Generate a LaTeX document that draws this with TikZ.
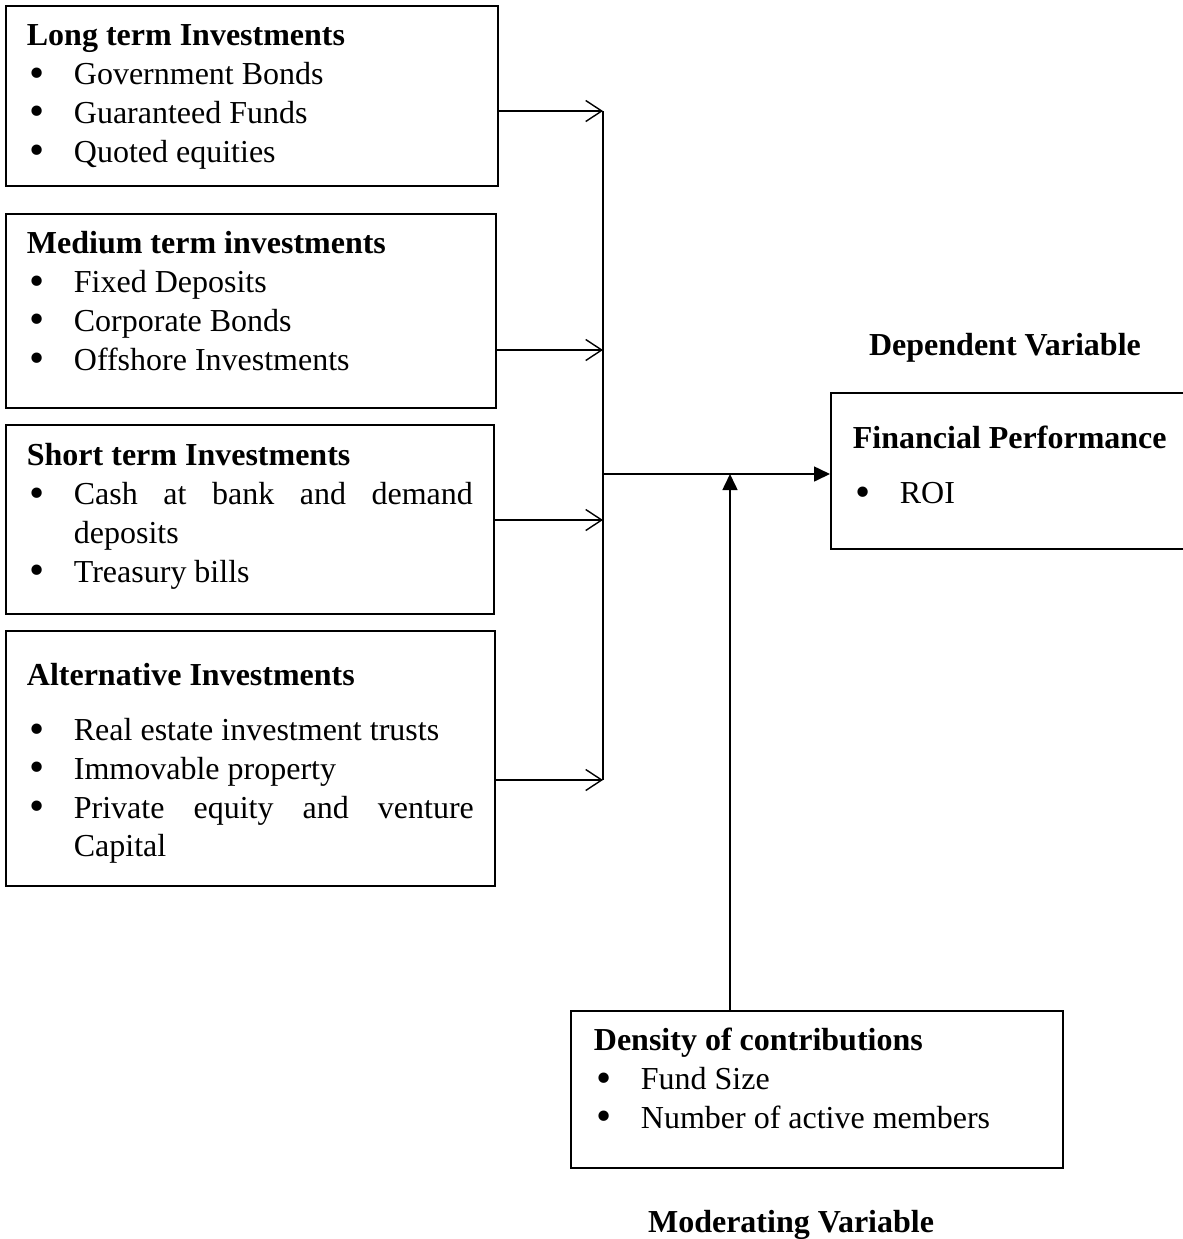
\documentclass[tikz,border=0pt]{standalone}
\usepackage{fontspec}
\usepackage{graphicx}
\setmainfont{Liberation Serif}
\usetikzlibrary{arrows.meta}
\hbadness=10000
\hyphenpenalty=10000

\newcommand{\bul}[1]{\par\hangindent=23.5pt\hangafter=1\noindent\makebox[23.5pt][l]{\hspace{1.5pt}\raisebox{-1.2pt}{\scalebox{1.35}{\textbullet}}}#1\par}

\tikzset{
  varbox/.style={draw, line width=0.9pt, anchor=north west, inner ysep=0pt, inner xsep=10.5pt,
    align=justify, font=\fontsize{16pt}{19.35pt}\selectfont},
  varlabel/.style={anchor=base, inner sep=0pt, font=\fontsize{16pt}{19.35pt}\selectfont\bfseries},
  feed/.style={line width=0.7pt, -{Straight Barb[length=8pt,width=10.5pt]}},
  link/.style={line width=0.8pt, -{Triangle[length=8pt,width=7.5pt]}}
}

\begin{document}
\begin{tikzpicture}[x=0.5pt, y=-0.5pt]

    \useasboundingbox (0,0) rectangle (1183,1239);

    \node[varbox, text width=225pt, text height=20pt, text depth=70pt] (longterm) at (5,5)
        {\textbf{Long term Investments}
         \bul{Government Bonds}
         \bul{Guaranteed Funds}
         \bul{Quoted equities}};
    \node[varbox, text width=224pt, text height=20pt, text depth=77pt] (mediumterm) at (5,213)
        {\textbf{Medium term investments}
         \bul{Fixed Deposits}
         \bul{Corporate Bonds}
         \bul{Offshore Investments}};
    \node[varbox, text width=223pt, text height=20.5pt, text depth=74pt] (shortterm) at (5,424)
        {\textbf{Short term Investments}
         \bul{Cash at bank and demand\linebreak deposits}
         \bul{Treasury bills}};
    \node[varbox, text width=223.5pt, text height=27.5pt, text depth=100pt] (alternative) at (5,630)
        {\textbf{Alternative Investments}\par\vspace{8pt}
         \bul{Real estate investment trusts}
         \bul{Immovable property}
         \bul{Private equity and venture\linebreak Capital}};

    \node[varlabel] (deplabel) at (1005,355) {Dependent Variable};
    \node[varbox, inner xsep=11pt, text width=168pt, text height=28pt, text depth=50pt] (performance) at (830,392)
        {\textbf{Financial Performance}\par\vspace{8pt}
         \bul{ROI}};

    \node[varbox, inner xsep=11.5pt, text width=223pt, text height=20pt, text depth=58.5pt] (density) at (570,1010)
        {\textbf{Density of contributions}
         \bul{Fund Size}
         \bul{Number of active members}};
    \node[varlabel] (modlabel) at (791,1232) {Moderating Variable};

    \coordinate (bus1) at (603,111);
    \coordinate (bus2) at (603,350);
    \coordinate (bus3) at (603,520);
    \coordinate (bus4) at (603,780);
    \coordinate (busout) at (603,474);
    \coordinate (modpoint) at (730,474);

    \draw[feed] (longterm.east |- bus1) -- (bus1);
    \draw[feed] (mediumterm.east |- bus2) -- (bus2);
    \draw[feed] (shortterm.east |- bus3) -- (bus3);
    \draw[feed] (alternative.east |- bus4) -- (bus4);
    \draw[line width=0.8pt] (bus1) -- (bus4);

    \draw[link] (busout) -- (performance.west |- busout);
    \draw[link] (density.north -| modpoint) -- (modpoint);

\end{tikzpicture}
\end{document}
